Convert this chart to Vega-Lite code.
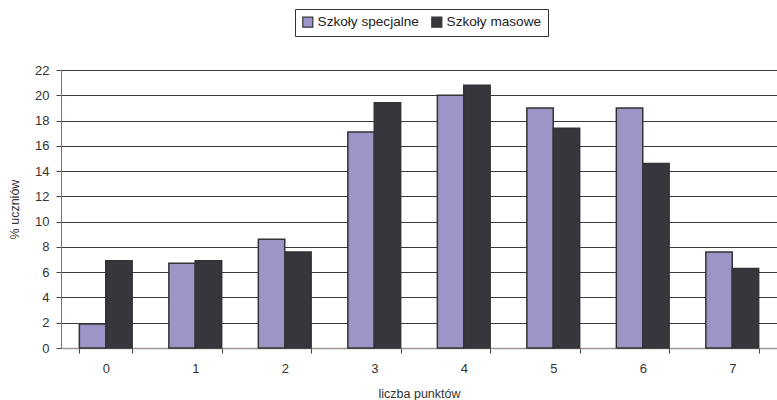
{
  "$schema": "https://vega.github.io/schema/vega-lite/v6.json",
  "autosize": {"type": "none"},
  "width": 716,
  "height": 278,
  "padding": {"left": 61, "top": 70, "right": 0, "bottom": 52},
  "background": "white",
  "config": {
    "view": {"stroke": null},
    "font": "Liberation Sans",
    "axis": {"labelFont": "Liberation Sans", "titleFont": "Liberation Sans", "labelColor": "#333", "titleColor": "#333", "titleFontWeight": "normal"}
  },
  "data": {
    "values": [
      {"pkt": "0", "typ": "Szkoły specjalne", "v": 1.9},
      {"pkt": "0", "typ": "Szkoły masowe", "v": 6.9},
      {"pkt": "1", "typ": "Szkoły specjalne", "v": 6.7},
      {"pkt": "1", "typ": "Szkoły masowe", "v": 6.9},
      {"pkt": "2", "typ": "Szkoły specjalne", "v": 8.6},
      {"pkt": "2", "typ": "Szkoły masowe", "v": 7.6},
      {"pkt": "3", "typ": "Szkoły specjalne", "v": 17.1},
      {"pkt": "3", "typ": "Szkoły masowe", "v": 19.4},
      {"pkt": "4", "typ": "Szkoły specjalne", "v": 20.0},
      {"pkt": "4", "typ": "Szkoły masowe", "v": 20.8},
      {"pkt": "5", "typ": "Szkoły specjalne", "v": 19.0},
      {"pkt": "5", "typ": "Szkoły masowe", "v": 17.4},
      {"pkt": "6", "typ": "Szkoły specjalne", "v": 19.0},
      {"pkt": "6", "typ": "Szkoły masowe", "v": 14.6},
      {"pkt": "7", "typ": "Szkoły specjalne", "v": 7.6},
      {"pkt": "7", "typ": "Szkoły masowe", "v": 6.3}
    ]
  },
  "mark": {"type": "bar", "stroke": "#333333", "strokeWidth": 1.5},
  "encoding": {
    "x": {
      "field": "pkt", "type": "nominal", "sort": null,
      "scale": {"paddingInner": 0.41, "paddingOuter": 0.205},
      "axis": {
        "title": "liczba punktów", "labelAngle": 0, "labelFontSize": 13, "titleFontSize": 12.5,
        "labelPadding": 9, "titlePadding": 12,
        "tickBand": "extent", "tickSize": 5, "tickColor": "#444", "domainColor": "#a09494", "domainWidth": 1.5
      }
    },
    "xOffset": {"field": "typ", "type": "nominal", "sort": ["Szkoły specjalne", "Szkoły masowe"], "scale": {"paddingInner": 0, "paddingOuter": 0}},
    "y": {
      "field": "v", "type": "quantitative",
      "scale": {"domain": [0, 22], "nice": false},
      "axis": {
        "title": "% uczniów", "values": [0, 2, 4, 6, 8, 10, 12, 14, 16, 18, 20, 22],
        "labelFontSize": 13, "titleFontSize": 12.5, "titlePadding": 13, "labelPadding": 7,
        "tickSize": 5, "tickColor": "#444", "domainColor": "#777", "gridColor": "#3a3a3a", "gridWidth": 1
      }
    },
    "color": {
      "field": "typ", "type": "nominal",
      "sort": ["Szkoły specjalne", "Szkoły masowe"],
      "scale": {"domain": ["Szkoły specjalne", "Szkoły masowe"], "range": ["#9c96c8", "#37363c"]},
      "legend": {
        "title": null, "orient": "none", "direction": "horizontal", "legendX": 234, "legendY": -61,
        "strokeColor": "#333", "padding": 6, "symbolType": "square", "symbolSize": 100,
        "symbolStrokeColor": "#333", "symbolStrokeWidth": 1.2, "labelFontSize": 13.6, "labelColor": "#222",
        "columnPadding": 10, "labelOffset": 3, "fillColor": "white"
      }
    }
  }
}
